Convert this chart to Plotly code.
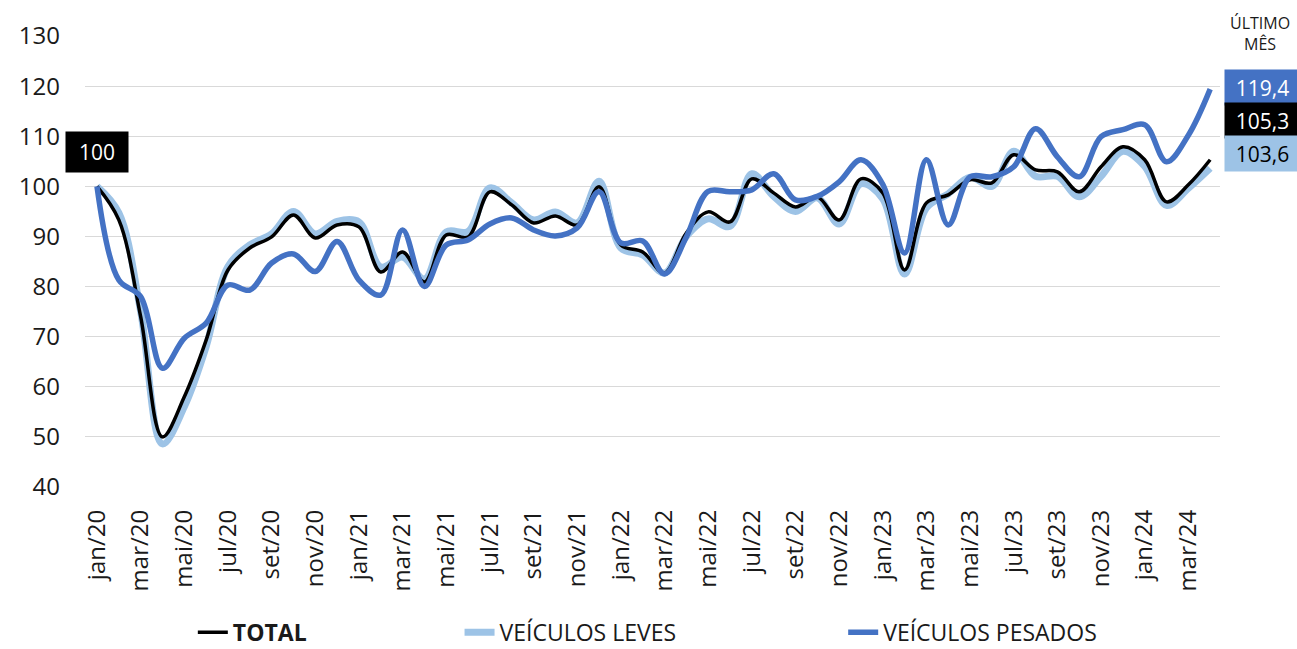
import plotly.graph_objects as go

months = ["jan", "fev", "mar", "abr", "mai", "jun", "jul", "ago", "set", "out", "nov", "dez"]
labels = [f"{m}/{y}" for y in ["20", "21", "22", "23", "24"] for m in months][:52]
tick_labels = labels[::2]

total = [100, 93.3, 74, 50, 58, 69.3, 83.3, 87.7, 89.9, 94.3, 89.7, 92.3,
         91.9, 82.9, 86.9, 80.9, 90.3, 89.9, 98.9, 96.3, 92.7, 94.1, 92.3, 99.9,
         88.3, 86.9, 82.7, 90.7, 94.9, 92.9, 101.5, 98.7, 95.9, 97.9, 93.3, 101.5,
         98.7, 83.3, 96.7, 98.3, 101.3, 100.7, 106.3, 103.3, 102.9, 98.9, 103.9, 107.9,
         105.3, 96.9, 100.3, 105.3]
leves = [100, 94.7, 75, 48.6, 56, 68, 84, 88.3, 90.5, 95, 90.5, 93,
         92.9, 83.9, 85.9, 81.5, 90.9, 91, 99.7, 96.7, 93.3, 94.9, 92.7, 101,
         87.7, 86.3, 82.7, 90, 93.5, 92, 102.5, 98, 95, 97.7, 92.5, 100.5,
         97.5, 82.5, 95.7, 98.5, 101.8, 100, 107, 102, 102, 97.9, 102, 107,
         104, 96.2, 99.6, 103.6]
pesados = [100, 81.3, 78, 63.7, 69.7, 72.7, 80.3, 79.3, 84.7, 86.5, 83, 89,
           81.3, 78.3, 91.3, 80, 88.3, 89.3, 92.5, 93.7, 91.3, 90.1, 91.7, 98.9,
           88.7, 89.1, 82.5, 89.9, 99, 98.9, 99.3, 102.5, 97.3, 98, 100.9, 105.3,
           100.4, 86.7, 105.3, 92.3, 101.9, 101.9, 103.9, 111.5, 105.9, 101.9, 109.9, 111.3,
           112.3, 104.9, 110.2, 119.4]

C_TOTAL = "#000000"
C_LEVES = "#9DC3E6"
C_PESADOS = "#4472C4"
FONT = "Open Sans"
TXT = "#1a1a1a"

fig = go.Figure()
fig.add_trace(go.Scatter(x=labels, y=leves, mode="lines", name="VEÍCULOS LEVES",
                         line=dict(color=C_LEVES, width=7, shape="spline", smoothing=1.0),
                         legend="legend2"))
fig.add_trace(go.Scatter(x=labels, y=total, mode="lines", name="<b>TOTAL</b>",
                         line=dict(color=C_TOTAL, width=3.5, shape="spline", smoothing=1.0),
                         legend="legend"))
fig.add_trace(go.Scatter(x=labels, y=pesados, mode="lines", name="VEÍCULOS PESADOS",
                         line=dict(color=C_PESADOS, width=5.5, shape="spline", smoothing=1.0),
                         legend="legend3"))

def fmt(v):
    return f"{v:.1f}".replace(".", ",")

annotations = [
    dict(x=labels[0], y=106.9, xref="x", yref="y", text=f"{total[0]:.0f}", showarrow=False,
         xanchor="center", yanchor="middle",
         bgcolor="#000000", font=dict(color="white", size=21, family=FONT), width=60, height=38),
    dict(x=(1260 - 85) / 1135, y=(487 - 33) / 451, xref="paper", yref="paper", text="ÚLTIMO<br>MÊS",
         showarrow=False, xanchor="center", yanchor="middle",
         font=dict(color=TXT, size=16, family=FONT)),
]
boxes = [(pesados[-1], C_PESADOS, "white", 119.8),
         (total[-1], C_TOTAL, "white", 113.2),
         (leves[-1], C_LEVES, "black", 106.6)]
for v, bg, fc, ypos in boxes:
    annotations.append(dict(x=(1224 - 85) / 1135, y=ypos, xref="paper", yref="y", xanchor="left",
                            yanchor="middle", text=fmt(v), showarrow=False, bgcolor=bg, width=73, height=33,
                            font=dict(color=fc, size=21, family=FONT)))

leg_common = dict(orientation="h", yanchor="middle", y=-0.322,
                  font=dict(size=23, family=FONT, color=TXT), bgcolor="rgba(0,0,0,0)")
fig.update_layout(
    width=1297, height=649,
    margin=dict(l=85, r=77, t=36, b=162, autoexpand=False),
    paper_bgcolor="white", plot_bgcolor="white",
    font=dict(family=FONT, color=TXT),
    showlegend=True,
    legend=dict(x=0.095, xanchor="left", **leg_common),
    legend2=dict(x=0.330, xanchor="left", **leg_common),
    legend3=dict(x=0.668, xanchor="left", **leg_common),
    xaxis=dict(type="category", tickmode="array", tickvals=tick_labels, ticktext=tick_labels,
               tickangle=-90, tickfont=dict(size=24, family=FONT, color=TXT), range=[-0.55, 51.45],
               showgrid=False, showline=False, zeroline=False, ticks="", automargin=False,
               ticklabelstandoff=17),
    yaxis=dict(range=[40, 130], dtick=10, tick0=40, tickfont=dict(size=24, family=FONT, color=TXT),
               gridcolor="#D9D9D9", gridwidth=1, zeroline=False, showline=False, ticks="",
               ticklabelstandoff=24, automargin=False),
    annotations=annotations,
)

fig.write_html("out.html", config={"displayModeBar": False},
               post_script="document.body.style.margin='0';document.body.style.overflow='hidden';")
